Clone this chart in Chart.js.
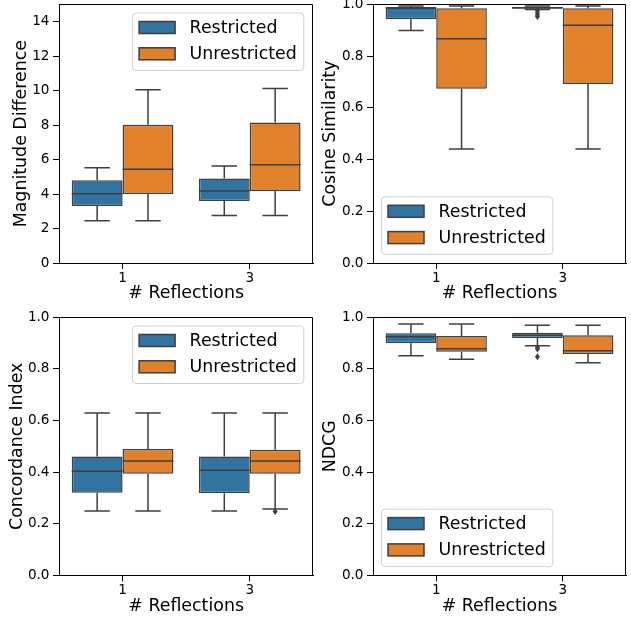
<!DOCTYPE html>
<html>
<head>
<meta charset="utf-8">
<script src="https://cdn.jsdelivr.net/npm/chart.js@4"></script>
<style>
  html, body { margin: 0; padding: 0; background: #fff; overflow: hidden; }
  body { width: 631px; height: 621px; position: relative; }
  canvas { position: absolute; }
</style>
</head>
<body>
<canvas id="magnitude" width="317" height="321" style="left:0px; top:-16px;"></canvas>
<canvas id="cosine" width="317" height="321" style="left:314px; top:-16px;"></canvas>
<canvas id="concordance" width="317" height="321" style="left:0px; top:297px;"></canvas>
<canvas id="ndcg" width="317" height="321" style="left:314px; top:297px;"></canvas>
<script>
// categories and series
const categories = ['1', '3'];
const seriesNames = ['Restricted', 'Unrestricted'];

// each entry: [lower whisker, q1, median, q3, upper whisker] for # reflections 1 and 3
const magnitudeRestricted = [[2.45, 3.31, 4.01, 4.80, 5.53], [2.76, 3.59, 4.18, 4.90, 5.63]];
const magnitudeUnrestricted = [[2.45, 4.00, 5.44, 8.02, 10.05], [2.76, 4.18, 5.69, 8.14, 10.12]];
const magnitudeRestrictedOutliers = [[], []];
const magnitudeUnrestrictedOutliers = [[], []];

const cosineRestricted = [[0.899, 0.942, 0.987, 0.988, 0.993], [0.980, 0.983, 0.987, 0.991, 0.993]];
const cosineUnrestricted = [[0.441, 0.674, 0.867, 0.985, 0.993], [0.441, 0.692, 0.919, 0.985, 0.993]];
const cosineRestrictedOutliers = [[], [0.976, 0.968, 0.960, 0.953]];
const cosineUnrestrictedOutliers = [[], []];

const concordanceRestricted = [[0.249, 0.320, 0.403, 0.460, 0.629], [0.249, 0.318, 0.407, 0.460, 0.629]];
const concordanceUnrestricted = [[0.249, 0.394, 0.443, 0.490, 0.629], [0.257, 0.394, 0.443, 0.487, 0.629]];
const concordanceRestrictedOutliers = [[], []];
const concordanceUnrestrictedOutliers = [[], [0.247]];

const ndcgRestricted = [[0.851, 0.899, 0.925, 0.938, 0.974], [0.890, 0.920, 0.930, 0.940, 0.969]];
const ndcgUnrestricted = [[0.837, 0.866, 0.878, 0.928, 0.974], [0.824, 0.858, 0.870, 0.930, 0.969]];
const ndcgRestrictedOutliers = [[], [0.884, 0.877, 0.847]];
const ndcgUnrestrictedOutliers = [[], []];

// tick labels
const magnitudeTicks = [0, 2, 4, 6, 8, 10, 12, 14];
const magnitudeTickLabels = ['0', '2', '4', '6', '8', '10', '12', '14'];
const unitTicks = [0, 0.2, 0.4, 0.6, 0.8, 1.0];
const unitTickLabels = ['0.0', '0.2', '0.4', '0.6', '0.8', '1.0'];

const fillColors = ['#3274a1', '#e1812c'];
const lineColor = '#3f3f3f';
const fontFamily = "'DejaVu Sans', sans-serif";
const bigFont = 17.4;

const boxParts = {
    id: 'boxParts',
    afterDatasetsDraw(chart) {
        const ctx = chart.ctx;
        const yScale = chart.scales.y;
        ctx.save();
        ctx.strokeStyle = lineColor;
        ctx.fillStyle = lineColor;
        ctx.lineWidth = 1.5;
        chart.data.datasets.forEach((ds, di) => {
            const meta = chart.getDatasetMeta(di);
            meta.data.forEach((bar, i) => {
                const s = ds.stats[i];
                const cx = bar.x;
                const half = bar.width / 2;
                const cap = half / 2;
                const py = s.map(v => yScale.getPixelForValue(v));
                ctx.beginPath();
                // lower whisker + cap
                ctx.moveTo(cx, py[1]); ctx.lineTo(cx, py[0]);
                ctx.moveTo(cx - cap, py[0]); ctx.lineTo(cx + cap, py[0]);
                // upper whisker + cap
                ctx.moveTo(cx, py[3]); ctx.lineTo(cx, py[4]);
                ctx.moveTo(cx - cap, py[4]); ctx.lineTo(cx + cap, py[4]);
                // median
                ctx.moveTo(cx - half, py[2]); ctx.lineTo(cx + half, py[2]);
                ctx.stroke();
                // fliers
                (ds.outliers[i] || []).forEach(v => {
                    const oy = yScale.getPixelForValue(v);
                    ctx.beginPath();
                    ctx.moveTo(cx, oy - 3.5);
                    ctx.lineTo(cx + 2.5, oy);
                    ctx.lineTo(cx, oy + 3.5);
                    ctx.lineTo(cx - 2.5, oy);
                    ctx.closePath();
                    ctx.fill();
                });
            });
        });
        ctx.restore();
    },
    afterDraw(chart) {
        const ctx = chart.ctx;
        const a = chart.chartArea;
        // top and right spines
        ctx.save();
        ctx.strokeStyle = '#000';
        ctx.lineWidth = 1;
        ctx.beginPath();
        ctx.moveTo(Math.round(a.left) + 0.5, Math.round(a.top) + 0.5);
        ctx.lineTo(Math.round(a.right) - 0.5, Math.round(a.top) + 0.5);
        ctx.lineTo(Math.round(a.right) - 0.5, Math.round(a.bottom) + 0.5);
        ctx.stroke();

        // legend
        const corner = chart.options.plugins.boxParts.corner;
        ctx.font = bigFont + 'px ' + fontFamily;
        const textW = Math.max(...seriesNames.map(n => ctx.measureText(n).width));
        const w = 57 + textW + 7;
        const h = 57.5;
        const lx = corner == 'upper right' ? a.right - 9.5 - w : a.left + 8.5;
        const ly = corner == 'upper right' ? a.top + 8.7 : a.bottom - 8.7 - h;
        ctx.beginPath();
        ctx.roundRect(lx, ly, w, h, 3.5);
        ctx.fillStyle = 'rgba(255,255,255,0.8)';
        ctx.fill();
        ctx.strokeStyle = '#d0d0d0';
        ctx.lineWidth = 1;
        ctx.stroke();
        seriesNames.forEach((name, i) => {
            const rowY = ly + 14.5 + i * 26.3;
            ctx.fillStyle = fillColors[i];
            ctx.fillRect(lx + 6.5, rowY - 6, 36, 12);
            ctx.strokeStyle = lineColor;
            ctx.lineWidth = 1.5;
            ctx.strokeRect(lx + 6.5, rowY - 6, 36, 12);
            ctx.fillStyle = '#000';
            ctx.textBaseline = 'middle';
            ctx.textAlign = 'left';
            ctx.fillText(name, lx + 57, rowY + 1);
        });
        ctx.restore();
    }
};

function RenderPanel(canvasId, restricted, unrestricted, restrictedOut, unrestrictedOut,
                     yTitle, yMax, tickValues, tickLabels, titlePad, corner, rightPad, bottomPad) {
    new Chart(document.getElementById(canvasId), {
        type: 'bar',
        data: {
            labels: categories,
            datasets: [{
                label: seriesNames[0],
                data: restricted.map(s => [s[1], s[3]]),
                stats: restricted,
                outliers: restrictedOut,
                backgroundColor: fillColors[0],
                borderColor: lineColor,
                borderWidth: 1.5,
                borderSkipped: false
            }, {
                label: seriesNames[1],
                data: unrestricted.map(s => [s[1], s[3]]),
                stats: unrestricted,
                outliers: unrestrictedOut,
                backgroundColor: fillColors[1],
                borderColor: lineColor,
                borderWidth: 1.5,
                borderSkipped: false
            }]
        },
        options: {
            responsive: false,
            animation: false,
            devicePixelRatio: 1,
            categoryPercentage: 0.8,
            barPercentage: 1.0,
            layout: {
                padding: { top: 20.3, right: rightPad, bottom: bottomPad, left: 0 }
            },
            scales: {
                x: {
                    offset: true,
                    grid: {
                        display: true,
                        offset: false,
                        drawOnChartArea: false,
                        drawTicks: true,
                        tickLength: 6,
                        color: '#000'
                    },
                    border: { display: true, color: '#000', width: 1 },
                    ticks: {
                        color: '#000',
                        padding: 1,
                        font: { family: fontFamily, size: 13.6, lineHeight: 1.2 }
                    },
                    title: {
                        display: true,
                        text: '# Reflections',
                        color: '#000',
                        padding: { top: 0, bottom: 0.6 },
                        font: { family: fontFamily, size: bigFont, lineHeight: 1.2 }
                    },
                    afterFit: function(scale) { scale.height = 42; }
                },
                y: {
                    min: 0,
                    max: yMax,
                    grid: {
                        display: true,
                        drawOnChartArea: false,
                        drawTicks: true,
                        tickLength: 6,
                        color: '#000'
                    },
                    border: { display: true, color: '#000', width: 1 },
                    ticks: {
                        color: '#000',
                        padding: 3.5,
                        font: { family: fontFamily, size: 13.6, lineHeight: 1.2 },
                        callback: function(value, index) { return tickLabels[index]; }
                    },
                    afterBuildTicks: function(scale) {
                        scale.ticks = tickValues.map(v => ({ value: v }));
                    },
                    title: {
                        display: true,
                        text: yTitle,
                        color: '#000',
                        padding: { top: titlePad, bottom: 0 },
                        font: { family: fontFamily, size: bigFont, lineHeight: 1.2 }
                    },
                    afterFit: function(scale) { scale.width = 59; }
                }
            },
            plugins: {
                legend: { display: false },
                tooltip: { enabled: false },
                boxParts: { corner: corner }
            }
        },
        plugins: [boxParts]
    });
}

RenderPanel('magnitude', magnitudeRestricted, magnitudeUnrestricted, magnitudeRestrictedOutliers,
    magnitudeUnrestrictedOutliers, 'Magnitude Difference', 15, magnitudeTicks, magnitudeTickLabels,
    10.8, 'upper right', 3.7, 0);
RenderPanel('cosine', cosineRestricted, cosineUnrestricted, cosineRestrictedOutliers,
    cosineUnrestrictedOutliers, 'Cosine Similarity', 1.0, unitTicks, unitTickLabels,
    6.1, 'lower left', 5, 0);
RenderPanel('concordance', concordanceRestricted, concordanceUnrestricted, concordanceRestrictedOutliers,
    concordanceUnrestrictedOutliers, 'Concordance Index', 1.0, unitTicks, unitTickLabels,
    6.8, 'upper right', 3.7, 0.7);
RenderPanel('ndcg', ndcgRestricted, ndcgUnrestricted, ndcgRestrictedOutliers,
    ndcgUnrestrictedOutliers, 'NDCG', 1.0, unitTicks, unitTickLabels,
    6.1, 'lower left', 5, 0.7);
</script>
</body>
</html>
